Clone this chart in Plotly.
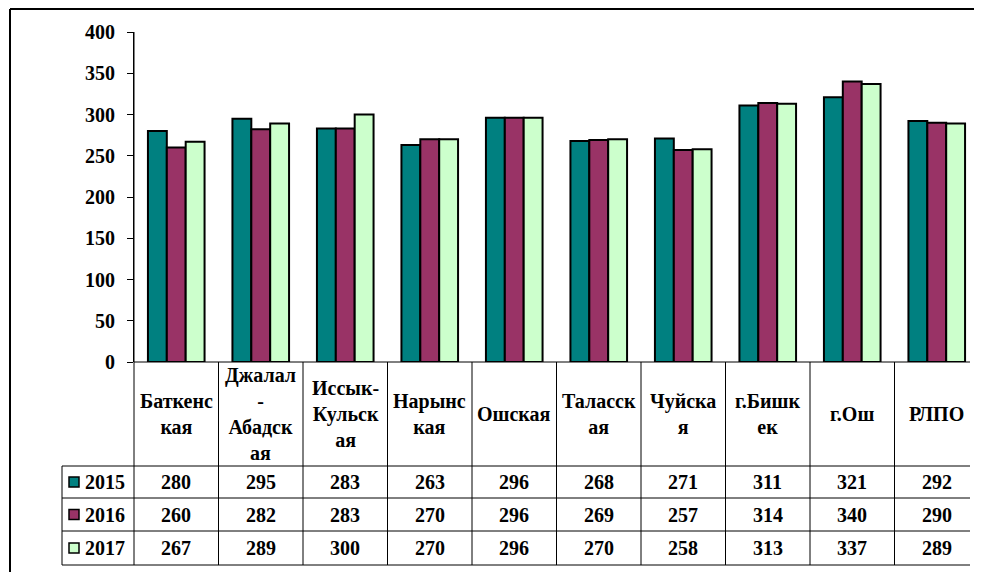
import plotly.graph_objects as go

categories = ["Баткенская", "Джалал-Абадская", "Иссык-Кульская", "Нарынская", "Ошская",
              "Таласская", "Чуйская", "г.Бишкек", "г.Ош", "РЛПО"]
category_labels = ["Баткенс<br>кая", "Джалал<br>-<br>Абадск<br>ая", "Иссык-<br>Кульск<br>ая",
                   "Нарынс<br>кая", "Ошская", "Таласск<br>ая", "Чуйска<br>я", "г.Бишк<br>ек",
                   "г.Ош", "РЛПО"]
series_names = ["2015", "2016", "2017"]
values_2015 = [280, 295, 283, 263, 296, 268, 271, 311, 321, 292]
values_2016 = [260, 282, 283, 270, 296, 269, 257, 314, 340, 290]
values_2017 = [267, 289, 300, 270, 296, 270, 258, 313, 337, 289]
series_values = [values_2015, values_2016, values_2017]
colors = ["#008080", "#993366", "#CCFFCC"]
y_ticks = [0, 50, 100, 150, 200, 250, 300, 350, 400]

OFF = 8  # default page body margin
W, H = 982 - OFF, 572 - OFF
L, R, T, B = 134, 979, 32, 362  # page pixel coordinates of the plot area
FS = 20


def px(x):
    return (x - L) / (R - L)


def py(y):
    return (B - y) / (B - T)


def fnt():
    return dict(family="Liberation Serif", size=FS, color="black", weight="bold")


fig = go.Figure()
for name, vals, col in zip(series_names, series_values, colors):
    fig.add_trace(go.Bar(x=categories, y=vals, name=name,
                         marker=dict(color=col, line=dict(color="black", width=2))))

shapes = []
ann = []
line = dict(color="black", width=1)
# outer border
shapes.append(dict(type="line", xref="paper", yref="paper", x0=px(10), x1=px(990), y0=py(9), y1=py(9),
                   line=dict(color="black", width=2)))
shapes.append(dict(type="line", xref="paper", yref="paper", x0=px(10), x1=px(10), y0=py(9), y1=py(590),
                   line=dict(color="black", width=2)))
# x axis line
shapes.append(dict(type="line", xref="paper", yref="paper", x0=px(134), x1=px(970), y0=0, y1=0, line=line))
# y axis extended through the table
shapes.append(dict(type="line", xref="paper", yref="paper", x0=0, x1=0, y0=1, y1=py(565), line=line))
# table horizontal lines
row_lines = [466, 498, 531, 565]
for yy in row_lines:
    shapes.append(dict(type="line", xref="paper", yref="paper", x0=px(62), x1=px(970), y0=py(yy), y1=py(yy),
                       line=line))
# legend column left border
shapes.append(dict(type="line", xref="paper", yref="paper", x0=px(62), x1=px(62), y0=py(466), y1=py(565),
                   line=line))
# category separators
for i in range(1, len(categories)):
    shapes.append(dict(type="line", xref="x", yref="paper", x0=i - 0.5, x1=i - 0.5, y0=0, y1=py(565),
                       line=line))

# category labels
for cat, lab in zip(categories, category_labels):
    ann.append(dict(x=cat, xref="x", y=py(414), yref="paper", text=lab, showarrow=False,
                    font=fnt(), yanchor="middle", align="center"))

row_centers = [482, 514.5, 548]
for name, vals, col, yc in zip(series_names, series_values, colors, row_centers):
    shapes.append(dict(type="rect", xref="paper", yref="paper", x0=px(69), x1=px(79),
                       y0=py(yc - 5), y1=py(yc + 5), fillcolor=col, line=dict(color="black", width=1.5)))
    ann.append(dict(x=px(83), xref="paper", y=py(yc), yref="paper", text=name, showarrow=False,
                    xanchor="left", yanchor="middle", font=fnt()))
    for cat, v in zip(categories, vals):
        ann.append(dict(x=cat, xref="x", y=py(yc), yref="paper", text=str(v), showarrow=False,
                        yanchor="middle", font=fnt()))

fig.update_layout(
    width=W, height=H,
    margin=dict(l=L - OFF, r=W - (R - OFF), t=T - OFF, b=H - (B - OFF), pad=0),
    paper_bgcolor="white", plot_bgcolor="white",
    barmode="group", bargap=0.33, bargroupgap=0,
    showlegend=False,
    shapes=shapes, annotations=ann,
)
fig.update_xaxes(showticklabels=False, showline=False, showgrid=False, ticks="", zeroline=False,
                 range=[-0.5, 9.5])
fig.update_yaxes(range=[0, 400], tickvals=y_ticks, showgrid=False, zeroline=False, showline=True,
                 linecolor="black", linewidth=1, ticks="outside", ticklen=6, tickcolor="black",
                 tickfont=fnt(), ticklabelstandoff=8)

fig.write_html("out.html")
